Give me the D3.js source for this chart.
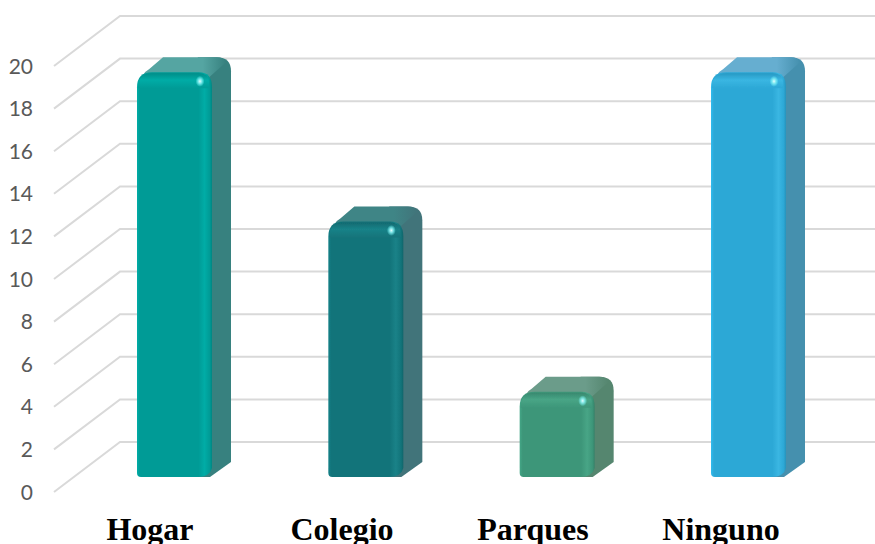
<!DOCTYPE html>
<html>
<head>
<meta charset="utf-8">
<script src="https://cdn.jsdelivr.net/npm/d3@7"></script>
<style>
  body { margin: 0; background: #fff; }
  .y-axis text { font-family: Lato, sans-serif; font-size: 21px; fill: #595959; }
  .cat-label { font-family: "Liberation Serif", serif; font-weight: bold; font-size: 32px; fill: #000; }
</style>
</head>
<body>
<div id="chart"></div>
<script>
// DATA
const categories = ["Hogar", "Colegio", "Parques", "Ninguno"];
const values = [19, 12, 4, 19];
const yTicks = [0, 2, 4, 6, 8, 10, 12, 14, 16, 18, 20];

// colours: front, top, side, shine
const frontColors = ["#009b96", "#12747a", "#3d9679", "#2ca8d6"];
const topColors = ["#55a5a2", "#3f8586", "#6b9c8a", "#66aed0"];
const sideColors = ["#37817f", "#41747a", "#55866f", "#4590ae"];
const shineColors = ["#00aca6", "#1a8288", "#48a586", "#3ab6e2"];

const width = 875, height = 544;
const depthX = 19, depthY = 15, barW = 75; // bar extrusion
const wallDX = 66, wallDY = 50; // side wall of the 3d box

const svg = d3.select("#chart").append("svg")
  .attr("width", width).attr("height", height)
  .style("display", "block");

// SCALES
const y = d3.scaleLinear().domain([0, 20]).range([477, 51]);
const x = d3.scalePoint().domain(categories).range([137, 711]);
// labels in the original are not evenly spaced
const labelX = d3.scaleOrdinal().domain(categories).range([150, 342, 533, 721]);

// front edge of the side wall sits under the bars, back edge behind them
const yFront = (v) => y(v) + 15;
const yBack = (v) => yFront(v) - wallDY;
const wallLeft = 54, wallBack = wallLeft + wallDX;

// GRIDLINES
svg.append("g").selectAll("path").data(yTicks).join("path")
  .attr("d", (d) => `M${wallLeft},${yFront(d)}L${wallBack},${yBack(d)}H${width}`)
  .attr("fill", "none").attr("stroke", "#d9d9d9").attr("stroke-width", 2);

// AXIS
const yAxisScale = d3.scaleLinear().domain([0, 20]).range([yFront(0), yFront(20)]);
const axisG = svg.append("g").attr("class", "y-axis")
  .attr("transform", "translate(33,0)")
  .call(d3.axisLeft(yAxisScale).tickValues(yTicks).tickSize(0).tickPadding(0));
axisG.select(".domain").remove();
axisG.selectAll("text").attr("dy", "0.34em");

// GRADIENTS
const defs = svg.append("defs");
const hl = defs.append("radialGradient").attr("id", "hl");
hl.append("stop").attr("offset", "0%").attr("stop-color", "#e8ffff");
hl.append("stop").attr("offset", "40%").attr("stop-color", "#8ff4f6").attr("stop-opacity", 0.85);
hl.append("stop").attr("offset", "100%").attr("stop-color", "#7ff").attr("stop-opacity", 0);

const soft = defs.append("filter").attr("id", "soft")
  .attr("x", "-10%").attr("y", "-10%").attr("width", "120%").attr("height", "120%");
soft.append("feGaussianBlur").attr("stdDeviation", 0.7);

categories.forEach((c, i) => {
  const g = defs.append("linearGradient").attr("id", `front${i}`);
  const c0 = d3.color(frontColors[i]);
  g.append("stop").attr("offset", "0%").attr("stop-color", c0.brighter(0.3));
  g.append("stop").attr("offset", "4%").attr("stop-color", c0);
  g.append("stop").attr("offset", "82%").attr("stop-color", c0);
  g.append("stop").attr("offset", "90%").attr("stop-color", shineColors[i]);
  g.append("stop").attr("offset", "97%").attr("stop-color", c0);
  g.append("stop").attr("offset", "100%").attr("stop-color", c0.darker(0.4));

  const t = defs.append("linearGradient").attr("id", `cap${i}`)
    .attr("x1", 0).attr("y1", 0).attr("x2", 0).attr("y2", 1);
  t.append("stop").attr("offset", "0%").attr("stop-color", c0.darker(0.25));
  t.append("stop").attr("offset", "45%").attr("stop-color", shineColors[i]);
  t.append("stop").attr("offset", "100%").attr("stop-color", c0);

  // top face fades into the side face at the back corner
  const s = defs.append("linearGradient").attr("id", `topface${i}`);
  s.append("stop").attr("offset", "0%").attr("stop-color", topColors[i]);
  s.append("stop").attr("offset", "72%").attr("stop-color", topColors[i]);
  s.append("stop").attr("offset", "100%").attr("stop-color", sideColors[i]);
});

// BARS
const bars = svg.append("g").selectAll("g").data(values).join("g")
  .attr("transform", (d, i) => `translate(${x(categories[i])},${y(d)})`);

// side face, whole silhouette behind the front
bars.append("path")
  .attr("fill", (d, i) => sideColors[i])
  .attr("d", (d) => {
    const h = y(0) - y(d);
    return `M${barW - 14},${-depthY}H${barW + 5}Q${barW + depthX},${-depthY} ${barW + depthX},${-1}
      V${h - depthY}L${barW - 2},${h}H${barW - 20}V0Z`;
  });

// top face
bars.append("path")
  .attr("fill", (d, i) => `url(#topface${i})`)
  .attr("d", `M6,3Q8,-1 12,-3L${depthX + 7},${-depthY}H${barW + 4}Q${barW + 12},${-depthY} ${barW + 14},${-depthY + 5}L${barW - 4},6H10Z`);

// front face
const frontPath = (d) => {
  const h = y(0) - y(d);
  return `M0,15Q0,0 15,0H${barW - 13}Q${barW},0 ${barW},15V${h - 9}Q${barW - 2},${h} ${barW - 15},${h}
    H4Q0,${h} 0,${h - 4}Z`;
};
bars.append("path").attr("d", frontPath).attr("fill", (d, i) => `url(#front${i})`);

// rounded bevel along the top
bars.append("path")
  .attr("fill", (d, i) => `url(#cap${i})`)
  .attr("filter", "url(#soft)")
  .attr("d", `M1,15Q1,1 15,1H${barW - 13}Q${barW - 4},1 ${barW - 3},9V16H1Z`);

// corner highlight
bars.append("ellipse")
  .attr("cx", barW - 12).attr("cy", 9).attr("rx", 4.5).attr("ry", 5.5)
  .attr("fill", "url(#hl)");

// CATEGORY LABELS
svg.append("g").selectAll("text").data(categories).join("text")
  .attr("class", "cat-label")
  .attr("x", (d) => labelX(d))
  .attr("y", 540)
  .attr("text-anchor", "middle")
  .text((d) => d);
</script>
</body>
</html>
